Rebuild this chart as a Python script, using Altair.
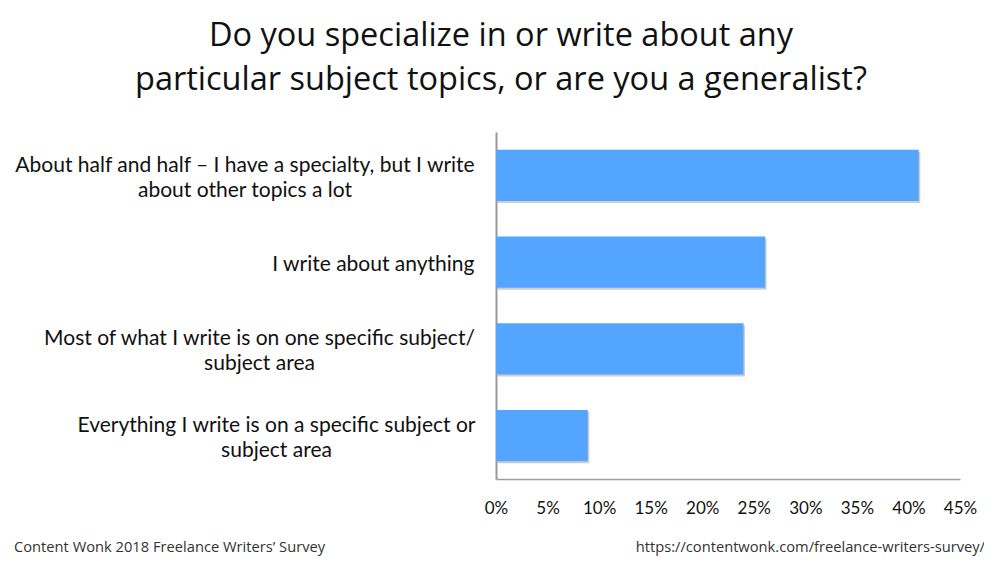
import altair as alt
import pandas as pd

categories = [
    "About half and half \u2013 I have a specialty, but I write|about other topics a lot",
    "I write about anything",
    "Most of what I write is on one specific subject/|subject area",
    "Everything I write is on a specific subject or|subject area",
]
values = [41.0, 26.1, 24.0, 8.9]
x_ticks = [0, 5, 10, 15, 20, 25, 30, 35, 40, 45]

title_lines = ["Do you specialize in or write about any",
               "particular subject topics, or are you a generalist?"]
footer_left = "Content Wonk 2018 Freelance Writers\u2019 Survey"
footer_right = "https://contentwonk.com/freelance-writers-survey/"

df = pd.DataFrame({"cat": categories, "val": values})

W, H = 464, 347

multi = "indexof(datum.value, '|') >= 0"

x_enc = alt.X("val:Q", scale=alt.Scale(domain=[0, 45], nice=False),
              axis=alt.Axis(values=x_ticks, labelExpr="datum.value + '%'", title=None,
                            grid=False, ticks=False, domainColor="#a0a0a0", domainWidth=1.5,
                            labelFont="Lato", labelFontSize=17, labelColor="#111",
                            labelPadding=21, labelFlush=False))
y_enc = alt.Y("cat:N", sort=categories,
              scale=alt.Scale(paddingInner=0.41, paddingOuter=0.205),
              axis=alt.Axis(title=None, ticks=False, domainColor="#999999", domainWidth=2,
                            labelExpr="split(datum.label, '|')", labelFont="Lato",
                            labelFontSize=21, labelLineHeight=25, labelColor="#111",
                            labelLimit=700,
                            labelAlign={"condition": {"test": multi, "value": "center"}, "value": "right"},
                            labelOffset={"condition": {"test": multi, "value": -9.5}, "value": 3},
                            labelPadding={"condition": [
                                {"test": "indexof(datum.value, 'About') == 0", "value": 251.5},
                                {"test": "indexof(datum.value, 'Most') == 0", "value": 237},
                                {"test": "indexof(datum.value, 'Everything') == 0", "value": 220},
                            ], "value": 22}))

base = alt.Chart(df)

shadow = base.mark_bar(color="#b8b8b8", opacity=0.7, xOffset=1.5, yOffset=2, x2Offset=1.5, y2Offset=2).encode(
    x=alt.X("val:Q", scale=alt.Scale(domain=[0, 45], nice=False)),
    y=alt.Y("cat:N", sort=categories)
)
bars = base.mark_bar(color="#54a5ff").encode(x=x_enc, y=y_enc)

fl = alt.Chart(pd.DataFrame({"t": [footer_left]})).mark_text(
    align="left", baseline="alphabetic", font="Open Sans", fontSize=14.7, color="#333"
).encode(x=alt.value(14 - 496), y=alt.value(552 - 132), text="t:N")
fr = alt.Chart(pd.DataFrame({"t": [footer_right]})).mark_text(
    align="right", baseline="alphabetic", font="Open Sans", fontSize=14.7, color="#333"
).encode(x=alt.value(985 - 496), y=alt.value(552 - 132), text="t:N")

chart = alt.layer(shadow, bars, fl, fr).properties(
    width=W, height=H,
    title=alt.TitleParams(title_lines, font="Open Sans", fontSize=32.5, fontWeight="normal",
                          color="#111", lineHeight=44, anchor="middle", dx=-227, offset=36),
    autosize=alt.AutoSizeParams(type="none"),
    padding={"left": 488, "top": 124, "right": 24, "bottom": 77},
).configure_view(stroke=None)

chart.save("out.html", embed_options={"renderer": "svg", "actions": False})
